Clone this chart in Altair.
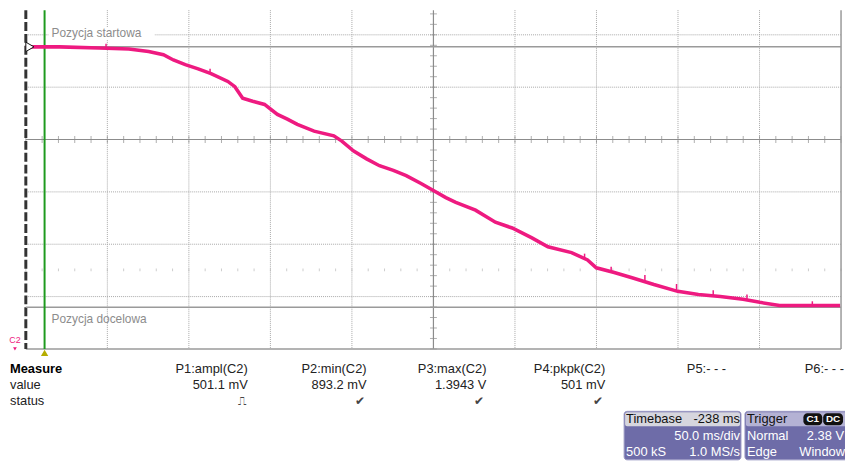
import altair as alt
import pandas as pd

# ---- data (time in ms, voltage in mV) ----
trace_t = [0, 20.7, 45.0, 63.2, 75.3, 84.4, 90.5, 97.8, 105.7, 113.6, 123.9, 128.2, 133.0,
           139.1, 146.4, 154.3, 160.4, 166.5, 176.8, 188.9, 193.8, 201.1, 209.0, 216.9,
           225.4, 233.3, 242.4, 249.7, 257.6, 263.7, 275.8, 288.0, 298.3, 310.4, 320.2,
           334.7, 344.5, 349.9, 360.9, 371.8, 385.2, 399.8, 412.5, 425.9, 439.9, 450.2,
           462.3, 476.3, 499.4]
trace_v = [1377, 1377, 1375, 1373, 1368, 1362, 1352, 1343, 1335, 1326, 1311, 1301, 1279,
           1273, 1267, 1248, 1239, 1229, 1216, 1207, 1197, 1178, 1163, 1150, 1141, 1131,
           1116, 1103, 1089, 1080, 1065, 1042, 1031, 1012, 995, 984, 970, 955, 946, 936,
           923, 910, 904, 900, 895, 889, 883, 883, 883]

spike_t = [49.2, 113.0, 342.7, 359.0, 379.7, 399.1, 421.6, 442.3, 482.4]
spike_base = [1375, 1326, 972, 948, 929, 912, 902, 895, 883]
spike_top = [1383, 1335, 982, 957, 941, 924, 912, 904, 891]

grid_t = [50, 100, 150, 200, 300, 350, 400, 450]
grid_v = [900, 1000, 1100, 1300, 1400]
center_t = [250]
center_v = [1200]
minor_t = [10 * i for i in range(51)]
minor_v = [800 + 20 * i for i in range(33)]
start_v = [1377]      # Pozycja startowa
target_v = [879.5]    # Pozycja docelowa
cursor_t = [11.5]     # green cursor / trigger position
row_v = [951]         # faint dotted tick row

measure_names = ["P1:ampl(C2)", "P2:min(C2)", "P3:max(C2)", "P4:pkpk(C2)", "P5:- - -", "P6:- - -"]
measure_values = ["501.1 mV", "893.2 mV", "1.3943 V", "501 mV", "", ""]
measure_status = ["\u238d", "\u2714", "\u2714", "\u2714", "", ""]

W, H = 823, 342
xs = alt.Scale(domain=[0, 500], nice=False, zero=False)
ys = alt.Scale(domain=[800, 1447.1], nice=False, zero=False)
FONT = "Liberation Sans"
PINK = "#ee1a80"
dummy = pd.DataFrame({"d": [0]})


def X(f="t"):
    return alt.X(f"{f}:Q", scale=xs, axis=None)


def Y(f="v"):
    return alt.Y(f"{f}:Q", scale=ys, axis=None)


def txt(s, x, y, align="left", size=13, color="#222", weight="normal"):
    return alt.Chart(dummy).mark_text(text=s, align=align, baseline="middle", fontSize=size,
                                      color=color, fontWeight=weight, font=FONT).encode(
        x=alt.value(x), y=alt.value(y))


def box(x1, x2, y1, y2, fill, stroke=None, r=0):
    kw = dict(color=fill, cornerRadius=r)
    if stroke:
        kw.update(stroke=stroke, strokeWidth=1)
    return alt.Chart(dummy).mark_rect(**kw).encode(
        x=alt.value(x1), x2=alt.value(x2), y=alt.value(y1), y2=alt.value(y2))


layers = []
# dotted grid
layers.append(alt.Chart(pd.DataFrame({"t": grid_t})).mark_rule(
    color="#a8a8a8", strokeDash=[1, 1], strokeWidth=1).encode(x=X()))
layers.append(alt.Chart(pd.DataFrame({"v": grid_v})).mark_rule(
    color="#a8a8a8", strokeDash=[1, 1], strokeWidth=1).encode(y=Y()))
# faint tick row
layers.append(alt.Chart(pd.DataFrame({"t": minor_t, "v": row_v * len(minor_t)})).mark_tick(
    orient="vertical", size=3, thickness=1, color="#b8b8b8").encode(x=X(), y=Y()))
# centre axes
layers.append(alt.Chart(pd.DataFrame({"t": center_t})).mark_rule(
    color="#8c8c8c", strokeWidth=1.2).encode(x=X()))
layers.append(alt.Chart(pd.DataFrame({"v": center_v})).mark_rule(
    color="#8c8c8c", strokeWidth=1.2).encode(y=Y()))
layers.append(alt.Chart(pd.DataFrame({"t": minor_t, "v": center_v * len(minor_t)})).mark_tick(
    orient="vertical", size=7, thickness=1, color="#8c8c8c").encode(x=X(), y=Y()))
layers.append(alt.Chart(pd.DataFrame({"v": minor_v, "t": center_t * len(minor_v)})).mark_tick(
    orient="horizontal", size=7, thickness=1, color="#8c8c8c").encode(x=X(), y=Y()))
# borders
layers.append(alt.Chart(pd.DataFrame({"t": [500]})).mark_rule(
    color="#9a9a9a", strokeWidth=1.5).encode(x=X()))
layers.append(alt.Chart(pd.DataFrame({"v": [800]})).mark_rule(
    color="#9a9a9a", strokeWidth=1.5).encode(y=Y()))
layers.append(alt.Chart(pd.DataFrame({"t": [0]})).mark_rule(
    color="#333333", strokeWidth=3, strokeDash=[9, 3]).encode(x=X()))
# reference position lines
layers.append(alt.Chart(pd.DataFrame({"v": start_v + target_v})).mark_rule(
    color="#9a9a9a", strokeWidth=1.5).encode(y=Y()))
layers.append(box(23, 130, 17, 30, "white"))
layers.append(txt("Pozycja startowa", 26, 23, size=12, color="#8c8c8c"))
layers.append(txt("Pozycja docelowa", 26, 312, size=12, color="#8c8c8c"))
# green cursor
layers.append(alt.Chart(pd.DataFrame({"t": cursor_t})).mark_rule(
    color="#1e9a1e", strokeWidth=2).encode(x=X()))
# signal
layers.append(alt.Chart(pd.DataFrame({"t": spike_t, "v": spike_base, "v2": spike_top})).mark_rule(
    color=PINK, strokeWidth=1.5).encode(x=X(), y=Y(), y2="v2:Q"))
layers.append(alt.Chart(pd.DataFrame({"t": trace_t, "v": trace_v})).mark_line(
    color=PINK, strokeWidth=3.6).encode(x=X(), y=Y()))
# trigger level arrow
layers.append(alt.Chart(pd.DataFrame({"t": [2.5], "v": start_v})).mark_point(
    shape="triangle-right", size=90, filled=True, fill="white", stroke="#111",
    strokeWidth=1, opacity=1).encode(x=X(), y=Y()))
# trigger position marker below cursor
layers.append(alt.Chart(pd.DataFrame({"t": cursor_t})).mark_point(
    shape="triangle-up", size=55, filled=True, color="#b5ad00", opacity=1).encode(
    x=X(), y=alt.value(346)))
# C2 marker
layers.append(txt("C2", -11, 333, align="center", size=9, color=PINK))
layers.append(alt.Chart(dummy).mark_point(shape="triangle-down", size=14, filled=True,
                                          color=PINK, opacity=1).encode(
    x=alt.value(-11), y=alt.value(342)))

# measure table
layers.append(txt("Measure", -16, 362, color="#000", weight="bold"))
layers.append(txt("value", -16, 378, color="#222"))
layers.append(txt("status", -16, 395, color="#222"))
col_right = [224, 344, 465, 585, 707, 826]
for name, val, st, xr in zip(measure_names, measure_values, measure_status, col_right):
    layers.append(txt(name, xr, 362, align="right"))
    if val:
        layers.append(txt(val, xr, 378, align="right"))
    if st:
        layers.append(txt(st, xr - 2, 395, align="right", size=12, color="#444"))

# timebase box
PURPLE = "#6e6ca8"
layers.append(box(604, 722, 405, 454, PURPLE, stroke="#9c9ac4", r=3))
layers.append(box(605, 721, 406, 420, "#d6d6de", r=2))
layers.append(txt("Timebase", 606, 413, color="#111"))
layers.append(txt("-238 ms", 721, 413, align="right", color="#111"))
layers.append(txt("50.0 ms/div", 721, 430, align="right", color="white"))
layers.append(txt("500 kS", 606, 446, color="white"))
layers.append(txt("1.0 MS/s", 721, 446, align="right", color="white"))
# trigger box
layers.append(box(726, 834, 405, 454, PURPLE, stroke="#9c9ac4", r=3))
layers.append(box(727, 833, 406, 420, "#b4b2d4", r=2))
layers.append(txt("Trigger", 728, 413, color="#111"))
layers.append(box(785, 804, 407, 419, "#111", r=4))
layers.append(box(805, 825, 407, 419, "#111", r=4))
layers.append(txt("C1", 794.5, 413, align="center", size=10, color="white", weight="bold"))
layers.append(txt("DC", 815, 413, align="center", size=10, color="white", weight="bold"))
layers.append(txt("Normal", 728, 430, color="white"))
layers.append(txt("2.38 V", 826, 430, align="right", color="white"))
layers.append(txt("Edge", 728, 446, color="white"))
layers.append(txt("Window", 827, 446, align="right", color="white"))

chart = alt.layer(*layers).properties(
    width=W, height=H,
    autosize=alt.AutoSizeParams(type="none"),
    padding={"left": 18, "top": 0, "right": 4, "bottom": 116},
    background="white",
).configure_view(stroke=None)

chart.save("out.html", embed_options={"renderer": "svg", "actions": False})
